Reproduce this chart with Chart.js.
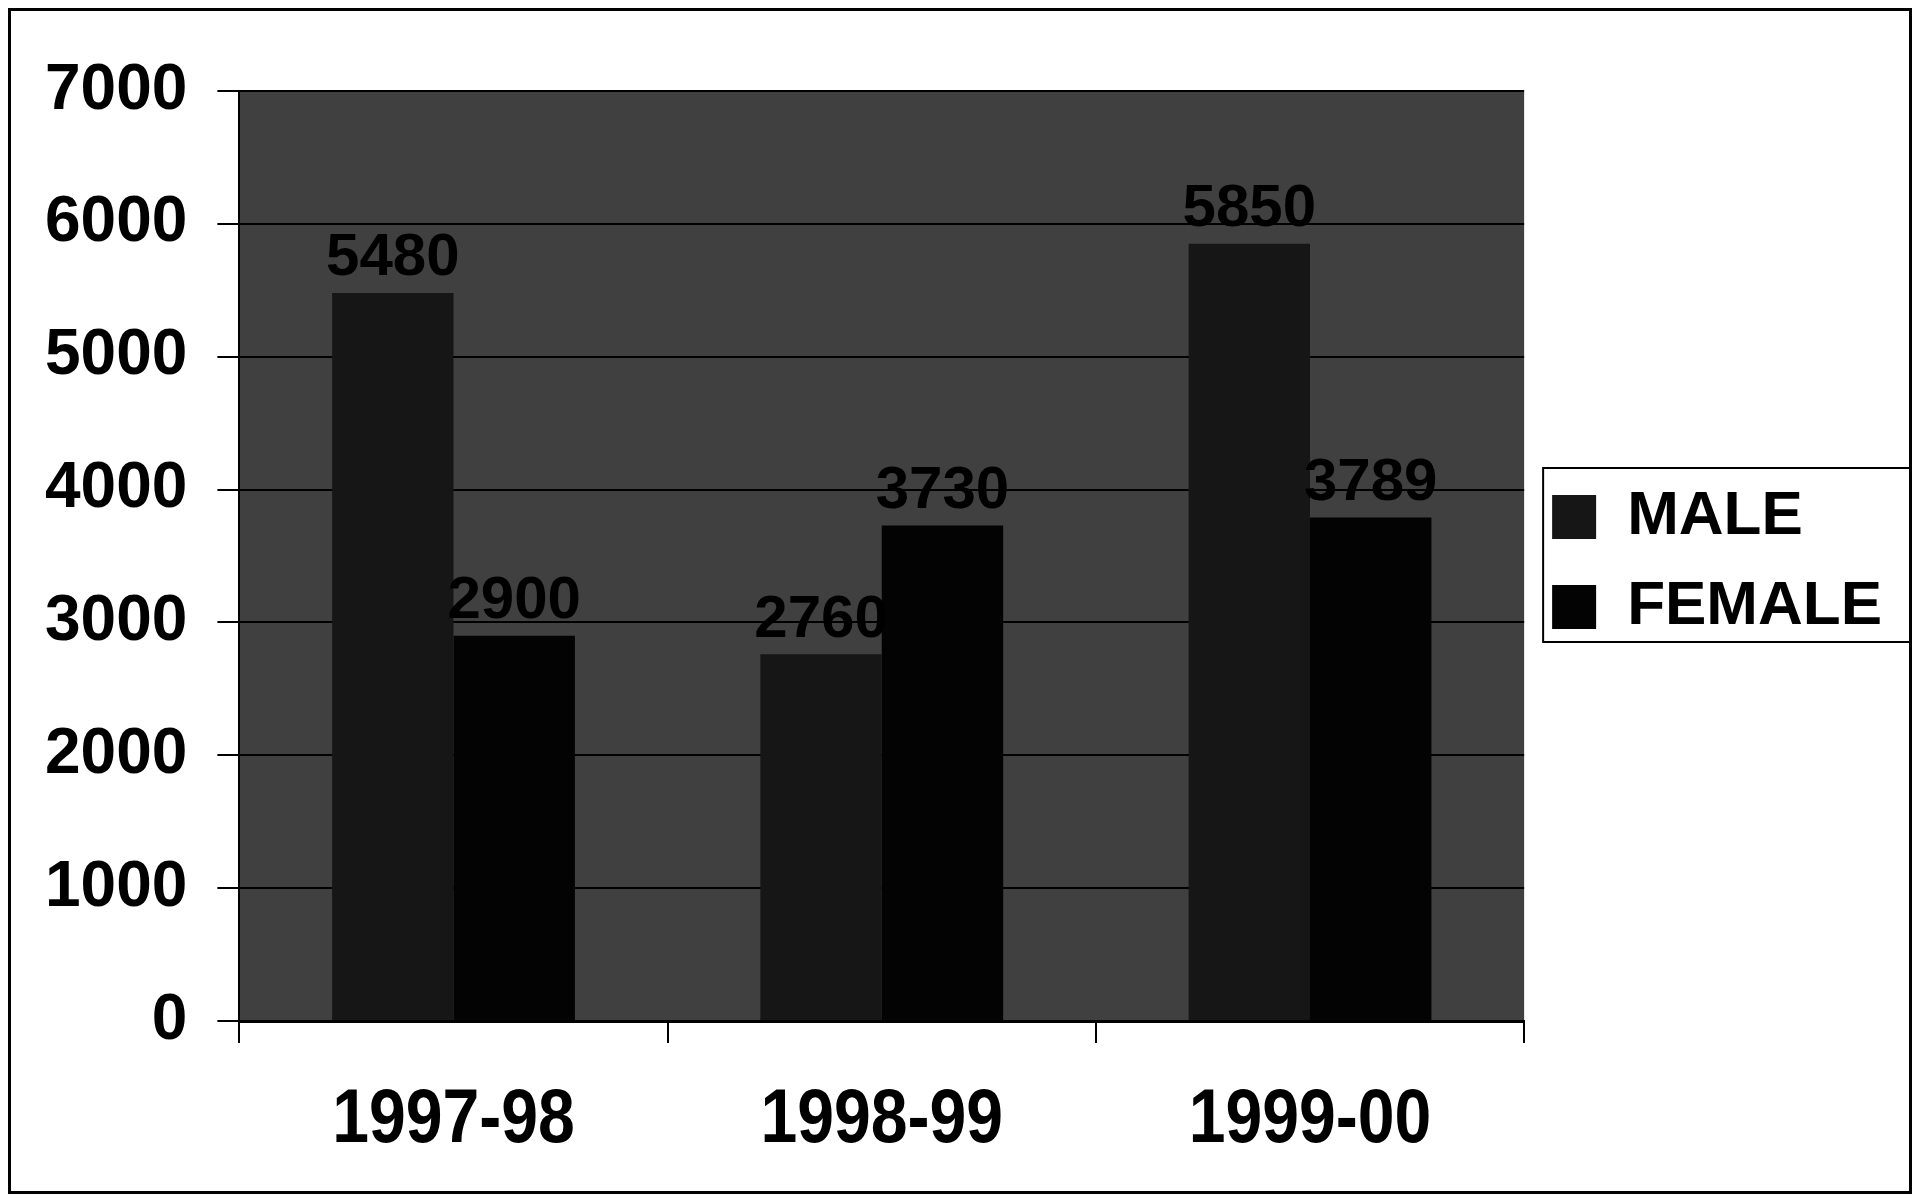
<!DOCTYPE html>
<html>
<head>
<meta charset="utf-8">
<script src="https://cdn.jsdelivr.net/npm/chart.js@4.4.1/dist/chart.umd.min.js"></script>
<style>
    body { margin: 0; background: #fff; overflow: hidden; }
    #wrap { position: absolute; left: 0; top: 0; width: 1919px; height: 1199px; }
    #frame { position: absolute; left: 8px; top: 8px; width: 1898px; height: 1180px; border: 3px solid #000; pointer-events: none; }
</style>
</head>
<body>
<div id="wrap"><canvas id="chart"></canvas></div>
<div id="frame"></div>
<script>
// data
const years = ['1997-98', '1998-99', '1999-00'];
const male = [5480, 2760, 5850];
const female = [2900, 3730, 3789];
const yTicks = [0, 1000, 2000, 3000, 4000, 5000, 6000, 7000];

const FONT = '"Liberation Sans", Arial, sans-serif';

// grey plot area behind the bars
const plotBackground = {
    id: 'plotBackground',
    beforeDraw(chart) {
        const { ctx, chartArea: a } = chart;
        ctx.save();
        ctx.fillStyle = '#404040';
        ctx.fillRect(a.left, a.top, a.right - a.left, a.bottom - a.top);
        ctx.restore();
    }
};

// value labels above each bar
const barLabels = {
    id: 'barLabels',
    afterDatasetsDraw(chart) {
        const { ctx } = chart;
        ctx.save();
        ctx.font = 'bold 60px ' + FONT;
        ctx.fillStyle = '#000';
        ctx.textAlign = 'center';
        ctx.textBaseline = 'bottom';
        chart.data.datasets.forEach((ds, i) => {
            chart.getDatasetMeta(i).data.forEach((bar, j) => {
                ctx.fillText(ds.data[j], bar.x, bar.y - 4);
            });
        });
        ctx.restore();
    }
};

// category names, squeezed like the narrow print in the scan
const xNames = {
    id: 'xNames',
    afterDraw(chart) {
        const { ctx, chartArea } = chart;
        const xs = chart.scales.x;
        ctx.save();
        ctx.font = 'bold 76px ' + FONT;
        ctx.fillStyle = '#000';
        ctx.textAlign = 'center';
        ctx.textBaseline = 'middle';
        years.forEach((name, i) => {
            ctx.save();
            ctx.translate(xs.getPixelForTick(i), chartArea.bottom + 100);
            ctx.scale(0.87, 1);
            ctx.fillText(name, 0, 0);
            ctx.restore();
        });
        ctx.restore();
    }
};

// box round the legend entries
const legendBox = {
    id: 'legendBox',
    afterDraw(chart) {
        const boxes = chart.legend.legendHitBoxes;
        if (!boxes || !boxes.length) return;
        const left = Math.min(...boxes.map(b => b.left)) - 9;
        const top = Math.min(...boxes.map(b => b.top)) - 18;
        const right = Math.max(...boxes.map(b => b.left + b.width)) + 29;
        const bottom = Math.max(...boxes.map(b => b.top + b.height)) + 4;
        const ctx = chart.ctx;
        ctx.save();
        ctx.strokeStyle = '#000';
        ctx.lineWidth = 2;
        ctx.strokeRect(left, top, right - left, bottom - top);
        ctx.restore();
    }
};

new Chart(document.getElementById('chart'), {
    type: 'bar',
    data: {
        labels: years,
        datasets: [{
            label: 'MALE',
            data: male,
            backgroundColor: '#161616',
            borderWidth: 0,
            categoryPercentage: 0.567,
            barPercentage: 1.0
        }, {
            label: 'FEMALE',
            data: female,
            backgroundColor: '#030303',
            borderWidth: 0,
            categoryPercentage: 0.567,
            barPercentage: 1.0
        }]
    },
    options: {
        responsive: true,
        maintainAspectRatio: false,
        devicePixelRatio: 1,
        animation: false,
        layout: { padding: { left: 15, top: 91, right: 27, bottom: 4 } },
        plugins: {
            legend: {
                position: 'right',
                align: 'start',
                title: { display: true, text: ' ', font: { size: 10 }, padding: { top: 355, bottom: 0 } },
                labels: {
                    color: '#000',
                    font: { family: FONT, size: 62, weight: 'bold' },
                    boxWidth: 44,
                    boxHeight: 44,
                    padding: 28
                }
            },
            tooltip: { enabled: false }
        },
        scales: {
            x: {
                grid: { display: true, drawOnChartArea: false, color: '#000', lineWidth: 2, tickLength: 22 },
                border: { color: '#000', width: 3 },
                ticks: {
                    color: 'rgba(0,0,0,0)',
                    padding: 37,
                    font: { family: FONT, size: 78, lineHeight: 1 }
                }
            },
            y: {
                min: 0,
                max: 7000,
                afterBuildTicks(axis) { axis.ticks = yTicks.map(v => ({ value: v })); },
                grid: { color: '#000', lineWidth: 2, tickLength: 22 },
                border: { color: '#000', width: 2 },
                ticks: {
                    color: '#000',
                    padding: 30,
                    font: { family: FONT, size: 64, weight: 'bold' },
                    callback: v => String(v)
                }
            }
        }
    },
    plugins: [plotBackground, barLabels, xNames, legendBox]
});
</script>
</body>
</html>
